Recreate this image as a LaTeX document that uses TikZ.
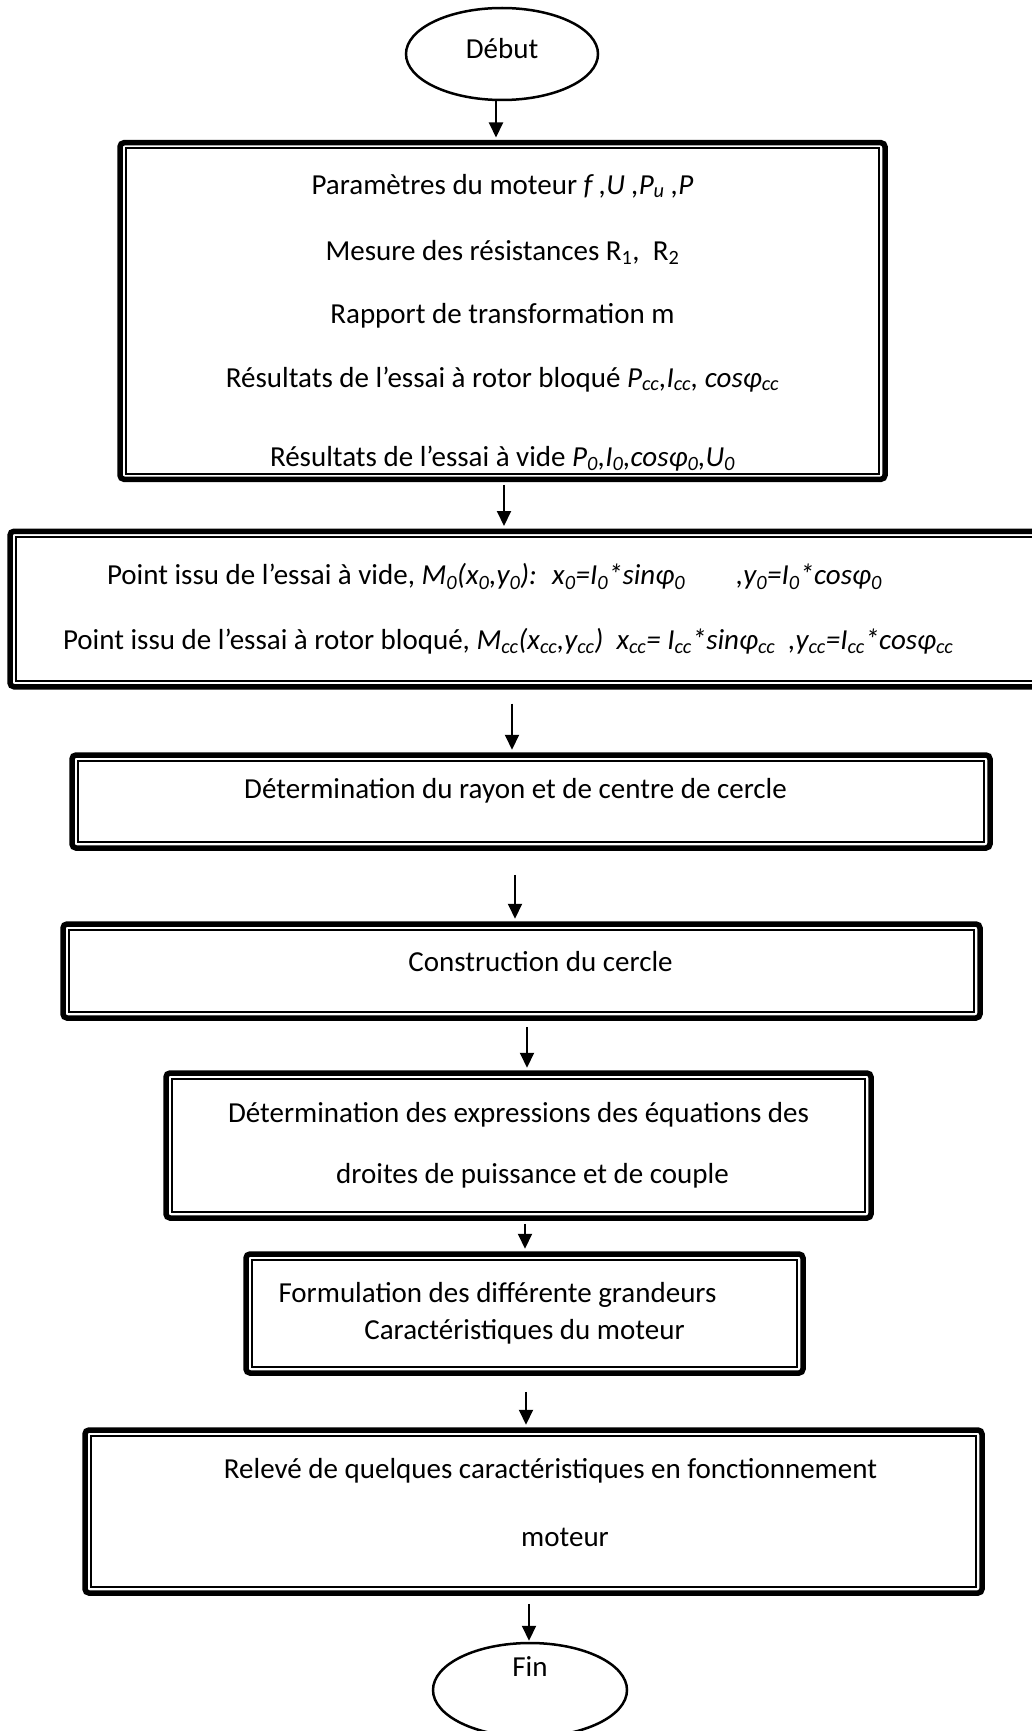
\documentclass[tikz,border=0pt]{standalone}
\usepackage{fontspec}
\setmainfont{Carlito}
\usepackage{tikz}
\usetikzlibrary{arrows.meta,shapes.geometric,positioning}
\newcommand{\corps}{\fontsize{29}{35}\selectfont}
\tikzstyle{etape}=[draw, line width=5.5pt, rounded corners=4pt, font=\corps,
  append after command={\pgfextra{\draw[line width=2pt, sharp corners]
    ([xshift=8.5pt,yshift=-8.5pt]\tikzlastnode.north west) rectangle
    ([xshift=-8.5pt,yshift=8.5pt]\tikzlastnode.south east);}}]
\tikzstyle{terminal}=[draw, ellipse, line width=2.5pt, font=\corps, inner sep=0pt]
\tikzstyle{fleche}=[line width=2pt, -{Triangle[length=15pt,width=14pt]}]

\begin{document}
\begin{tikzpicture}[x=1pt,y=1pt]
        \useasboundingbox (0,0) rectangle (1031,-1731);
        \node[terminal, minimum width=192pt, minimum height=92pt, text height=20pt, text depth=10pt]
          (debut) at (502,-54) {Début};
        \node[etape, align=center, minimum width=765pt, minimum height=336.5pt]
          (b1) at (502.5,-311) {\rule{0pt}{43pt}Paramètres du moteur \textit{f ,U ,P\textsubscript{u} ,P}\\[31pt]
            Mesure des résistances R\textsubscript{1},~ R\textsubscript{2}\\[28pt]
            Rapport de transformation m\\[29pt]
            Résultats de l’essai à rotor bloqué \textit{P\textsubscript{cc},I\textsubscript{cc}, cosφ\textsubscript{cc}}\\[44pt]
            Résultats de l’essai à vide \textit{P\textsubscript{0},I\textsubscript{0},cosφ\textsubscript{0},U\textsubscript{0}}};
        \node[etape, align=flush left, text width=944pt, inner xsep=53pt, minimum height=155.5pt]
          (b2) at (535,-609) {\hspace*{44pt}Point issu de l’essai à vide, \textit{M\textsubscript{0}(x\textsubscript{0},y\textsubscript{0}):~ x\textsubscript{0}=I\textsubscript{0}*sinφ\textsubscript{0}}\hspace{51pt}\textit{,y\textsubscript{0}=I\textsubscript{0}*cosφ\textsubscript{0}}\\[30pt]
            Point issu de l’essai à rotor bloqué, \textit{M\textsubscript{cc}(x\textsubscript{cc},y\textsubscript{cc})~ x\textsubscript{cc}= I\textsubscript{cc}*sinφ\textsubscript{cc}~ ,y\textsubscript{cc}=I\textsubscript{cc}*cosφ\textsubscript{cc}}};
        \node[etape, minimum width=918pt, minimum height=93pt, text height=22pt, text depth=29pt]
          (b3) at (531,-801.5) {Détermination du rayon et de centre de cercle\hspace*{31pt}};
        \node[etape, minimum width=917pt, minimum height=94pt, text height=20pt, text depth=20pt]
          (b4) at (521.5,-971) {\hspace*{38pt}Construction du cercle};
        \node[etape, align=center, minimum width=705pt, minimum height=145pt]
          (b5) at (518.5,-1145.5) {Détermination des expressions des équations des\\[26pt]
            \hspace*{28pt}droites de puissance et de couple};
        \node[etape, align=center, minimum width=557pt, minimum height=119pt]
          (b6) at (524.5,-1313.5) {Formulation des différente grandeurs\hspace*{54pt}\\[2pt]
            Caractéristiques du moteur};
        \node[etape, align=center, minimum width=897pt, minimum height=163pt]
          (b7) at (533.5,-1511.5) {\hspace*{34pt}Relevé de quelques caractéristiques en fonctionnement\\[33pt]
            \hspace*{63pt}moteur\rule[-18pt]{0pt}{18pt}};
        \node[terminal, minimum width=194pt, minimum height=94pt, text height=19pt, text depth=47pt]
          (fin) at (530,-1690) {Fin};
        \draw[fleche, shorten >=2.5pt] ([xshift=-6pt]debut.south) -- ([xshift=-6.5pt]b1.north);
        \draw[fleche, shorten <=2.75pt, shorten >=2.5pt] ([xshift=1.5pt]b1.south) -- ([xshift=-31pt]b2.north);
        \draw[fleche, shorten <=14pt, shorten >=2.5pt] ([xshift=-23pt]b2.south) -- ([xshift=-19pt]b3.north);
        \draw[fleche, shorten <=24pt, shorten >=2.5pt] ([xshift=-16pt]b3.south) -- ([xshift=-6.5pt]b4.north);
        \draw[fleche, shorten <=6pt, shorten >=2.5pt] ([xshift=5.5pt]b4.south) -- ([xshift=8.5pt]b5.north);
        \draw[fleche, shorten <=3pt, shorten >=2.5pt] ([xshift=6.5pt]b5.south) -- ([xshift=0.5pt]b6.north);
        \draw[fleche, shorten <=16pt, shorten >=2.5pt] ([xshift=1.5pt]b6.south) -- ([xshift=-7.5pt]b7.north);
        \draw[fleche, shorten <=8pt, shorten >=1pt] ([xshift=-4.5pt]b7.south) -- ([xshift=-1pt]fin.north);
      \end{tikzpicture}
\end{document}
